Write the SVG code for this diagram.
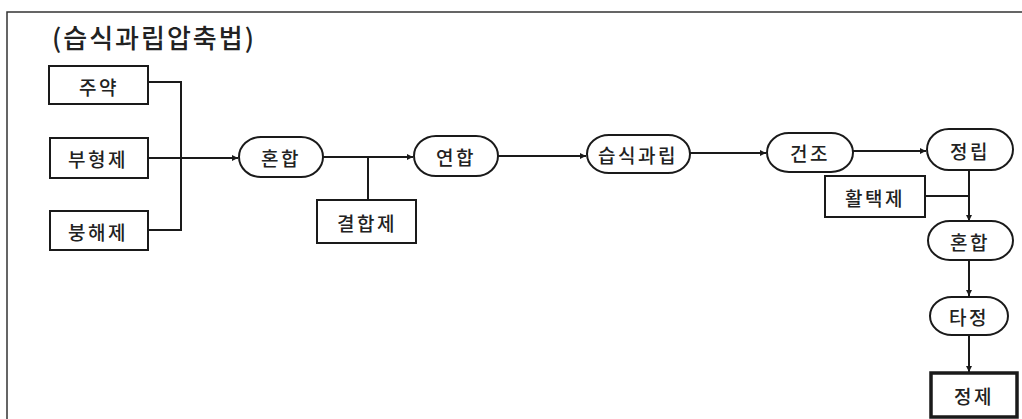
<svg xmlns="http://www.w3.org/2000/svg" width="1022" height="419" viewBox="0 0 1022 419">
<style>
.box{fill:#fff;stroke:#1a1a1a;stroke-width:2}
.thick{fill:#fff;stroke:#1a1a1a;stroke-width:3.5}
.pill{fill:#fff;stroke:#1a1a1a;stroke-width:2}
.lbl{font-family:"Noto Sans CJK KR","Noto Sans",sans-serif;font-size:19px;font-weight:500;fill:#222;text-anchor:middle;dominant-baseline:central;letter-spacing:2.5px}
.title{font-family:"Noto Sans CJK KR","Noto Sans",sans-serif;font-size:26px;font-weight:500;fill:#222;letter-spacing:2px}
.ln{fill:none;stroke:#1a1a1a;stroke-width:2}
.arr{fill:none;stroke:#1a1a1a;stroke-width:2;marker-end:url(#ah)}
</style>
<defs>
<marker id="ah" viewBox="0 0 10 10" refX="10" refY="5" markerWidth="7" markerHeight="6" markerUnits="userSpaceOnUse" orient="auto">
<path d="M0,0 L10,5 L0,10 z" fill="#1a1a1a"/>
</marker>
</defs>
<rect width="1022" height="419" fill="#fff"/>
<path d="M1022,12 H7 V419" fill="none" stroke="#333" stroke-width="1.5"/>
<text id="title" class="title" x="52" y="48">(습식과립압축법)</text>

<g id="connectors">
<path class="ln" d="M148,82 H181 V230 H148"/>
<path class="arr" d="M148,158 H238"/>
<path class="arr" d="M323,157 H413"/>
<path class="ln" d="M368,157 V200"/>
<path class="arr" d="M498,156 H586"/>
<path class="arr" d="M690,153 H766"/>
<path class="arr" d="M853,151 H926"/>
<path class="arr" d="M969,170 V221"/>
<path class="ln" d="M925,196 H969"/>
<path class="arr" d="M969,260 V296"/>
<path class="arr" d="M969,335 V372"/>
</g>

<g id="n-juyak"><rect class="box" x="49" y="66" width="99" height="38"/><text class="lbl" x="99" y="86">주약</text></g>
<g id="n-buhyeongje"><rect class="box" x="50" y="138" width="98" height="40"/><text class="lbl" x="98" y="158">부형제</text></g>
<g id="n-bunghaeje"><rect class="box" x="50" y="211" width="98" height="39"/><text class="lbl" x="98" y="231">붕해제</text></g>
<g id="n-honhap1"><rect class="pill" x="239" y="137" width="84" height="40" rx="22" ry="20"/><text class="lbl" x="281" y="157">혼합</text></g>
<g id="n-gyeolhapje"><rect class="box" x="317" y="200" width="99" height="43"/><text class="lbl" x="367" y="222">결합제</text></g>
<g id="n-yeonhap"><rect class="pill" x="414" y="136" width="84" height="40" rx="22" ry="20"/><text class="lbl" x="456" y="156">연합</text></g>
<g id="n-seupsik"><rect class="pill" x="587" y="135" width="103" height="38" rx="22" ry="19"/><text class="lbl" x="638" y="154">습식과립</text></g>
<g id="n-geonjo"><rect class="pill" x="767" y="133" width="86" height="39" rx="22" ry="19.5"/><text class="lbl" x="810" y="152">건조</text></g>
<g id="n-jeongrip"><rect class="pill" x="927" y="129" width="86" height="41" rx="22" ry="20.5"/><text class="lbl" x="970" y="150">정립</text></g>
<g id="n-hwaltaekje"><rect class="box" x="825" y="176" width="100" height="41"/><text class="lbl" x="875" y="197">활택제</text></g>
<g id="n-honhap2"><rect class="pill" x="928" y="221" width="85" height="39" rx="22" ry="19.5"/><text class="lbl" x="970" y="241">혼합</text></g>
<g id="n-tajeong"><rect class="pill" x="930" y="297" width="78" height="38" rx="22" ry="19"/><text class="lbl" x="969" y="316">타정</text></g>
<g id="n-jeongje"><rect class="thick" x="931" y="373" width="86" height="44"/><text class="lbl" x="974" y="395">정제</text></g>
</svg>
